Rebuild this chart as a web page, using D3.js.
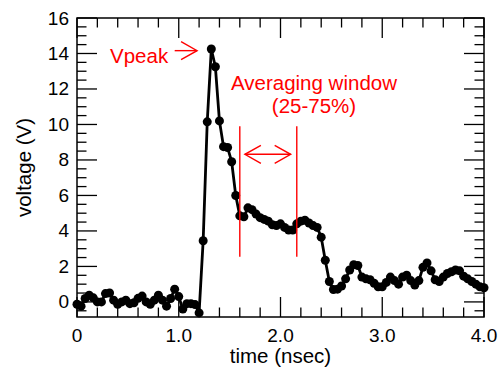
<!DOCTYPE html>
<html>
<head>
<meta charset="utf-8">
<script src="https://cdn.jsdelivr.net/npm/d3@7/dist/d3.min.js"></script>
<style>
  html, body { margin: 0; padding: 0; background: #fff; }
  svg { display: block; font-family: "Liberation Sans", Arial, Helvetica, sans-serif; }
</style>
</head>
<body>
<svg id="chart" width="502" height="371"></svg>
<script>
// ---- data ----
const times = [0.00,0.04,0.08,0.12,0.16,0.20,0.24,0.28,0.32,0.36,0.40,0.44,0.48,0.52,0.56,0.60,0.64,0.68,0.72,0.76,
  0.80,0.84,0.88,0.92,0.96,1.00,1.04,1.08,1.12,1.16,1.20,1.24,1.28,1.32,1.36,1.40,1.44,1.48,1.52,1.56,
  1.60,1.64,1.68,1.72,1.76,1.80,1.84,1.88,1.92,1.96,2.00,2.04,2.08,2.12,2.16,2.20,2.24,2.28,2.32,2.36,
  2.40,2.44,2.48,2.52,2.56,2.60,2.64,2.68,2.72,2.76,2.80,2.84,2.88,2.92,2.96,3.00,3.04,3.08,3.12,3.16,
  3.20,3.24,3.28,3.32,3.36,3.40,3.44,3.48,3.52,3.56,3.60,3.64,3.68,3.72,3.76,3.80,3.84,3.88,3.92,3.96,4.00];
const voltage = [-0.13,-0.24,0.19,0.38,0.23,0.00,0.00,0.47,0.50,0.10,-0.13,0.00,0.10,-0.10,-0.05,0.20,0.33,0.00,-0.13,0.10,
  0.38,0.10,-0.24,0.19,0.72,0.30,-0.40,-0.10,-0.10,-0.15,-0.62,3.45,10.15,14.25,13.25,10.20,8.75,8.70,7.90,6.00,
  4.85,4.80,5.30,5.20,4.95,4.75,4.65,4.55,4.35,4.30,4.40,4.20,4.05,4.05,4.40,4.55,4.60,4.45,4.30,4.20,
  3.65,2.35,1.15,0.70,0.72,0.90,1.30,1.80,2.10,2.05,1.40,1.30,1.25,1.05,0.85,0.85,1.10,1.40,1.20,1.00,
  1.40,1.50,1.20,0.95,1.20,1.95,2.20,1.75,1.25,1.15,1.40,1.60,1.70,1.80,1.75,1.45,1.30,1.15,1.00,0.85,0.80];

const xMajorTicks = [0, 1, 2, 3, 4];
const xTickLabels = ["0", "1.0", "2.0", "3.0", "4.0"];
const xMinorTicks = [0.2,0.4,0.6,0.8,1.2,1.4,1.6,1.8,2.2,2.4,2.6,2.8,3.2,3.4,3.6,3.8];
const yMajorTicks = [0, 2, 4, 6, 8, 10, 12, 14, 16];
const yTickLabels = ["0", "2", "4", "6", "8", "10", "12", "14", "16"];
const yMinorTicks = [-0.5,0.5,1,1.5,2.5,3,3.5,4.5,5,5.5,6.5,7,7.5,8.5,9,9.5,10.5,11,11.5,12.5,13,13.5,14.5,15,15.5];

// annotations (data units)
const windowBounds = [1.6, 2.16];
const windowLineRange = [2.55, 9.9];
const windowArrow = [1.65, 2.10, 8.32];   // t0, t1, v
const peakArrow = [0.96, 1.18, 14.16];    // t0, t1, v
const annotationTexts = ["Vpeak", "Averaging window", "(25-75%)"];

// ---- layout ----
const L = 77, R = 484, T = 18, B = 317;
const x = d3.scaleLinear().domain([0, 4]).range([L, R]);
const y = d3.scaleLinear().domain([-0.85, 16]).range([B, T]);

const svg = d3.select("#chart");
const red = "#ff0000";

// frame
svg.append("rect").attr("x", L).attr("y", T).attr("width", R - L).attr("height", B - T)
  .attr("fill", "none").attr("stroke", "#000").attr("stroke-width", 1.5);

const g = svg.append("g").attr("stroke", "#000").attr("stroke-width", 1.3);
const MAJ = 20, MIN = 9.5;
xMajorTicks.forEach(v => {
  g.append("line").attr("x1", x(v)).attr("x2", x(v)).attr("y1", B).attr("y2", B - MAJ);
  g.append("line").attr("x1", x(v)).attr("x2", x(v)).attr("y1", T).attr("y2", T + MAJ);
});
xMinorTicks.forEach(v => {
  g.append("line").attr("x1", x(v)).attr("x2", x(v)).attr("y1", B).attr("y2", B - MIN);
  g.append("line").attr("x1", x(v)).attr("x2", x(v)).attr("y1", T).attr("y2", T + MIN);
});
yMajorTicks.forEach(v => {
  g.append("line").attr("y1", y(v)).attr("y2", y(v)).attr("x1", L).attr("x2", L + MAJ);
  g.append("line").attr("y1", y(v)).attr("y2", y(v)).attr("x1", R).attr("x2", R - MAJ);
});
yMinorTicks.forEach(v => {
  g.append("line").attr("y1", y(v)).attr("y2", y(v)).attr("x1", L).attr("x2", L + MIN);
  g.append("line").attr("y1", y(v)).attr("y2", y(v)).attr("x1", R).attr("x2", R - MIN);
});

// tick labels
xMajorTicks.forEach((v, i) => {
  svg.append("text").attr("x", x(v)).attr("y", 342).attr("text-anchor", "middle")
    .attr("font-size", 19).attr("fill", "#000").text(xTickLabels[i]);
});
yMajorTicks.forEach((v, i) => {
  svg.append("text").attr("x", 69).attr("y", y(v) + 6.5).attr("text-anchor", "end")
    .attr("font-size", 19).attr("fill", "#000").text(yTickLabels[i]);
});

// axis titles
svg.append("text").attr("x", (L + R) / 2).attr("y", 363).attr("text-anchor", "middle")
  .attr("font-size", 20.5).attr("fill", "#000").text("time (nsec)");
svg.append("text").attr("transform", `translate(31,${(T + B) / 2}) rotate(-90)`)
  .attr("text-anchor", "middle").attr("font-size", 20.5).attr("fill", "#000").text("voltage (V)");

// data line & dots
const data = times.map((t, i) => ({ t, v: voltage[i] }));
svg.append("path").datum(data)
  .attr("d", d3.line().x(d => x(d.t)).y(d => y(d.v)))
  .attr("fill", "none").attr("stroke", "#000").attr("stroke-width", 2.8).attr("stroke-linejoin", "round");
svg.append("g").selectAll("circle").data(data).join("circle")
  .attr("cx", d => x(d.t)).attr("cy", d => y(d.v)).attr("r", 4.5).attr("fill", "#000");

// annotations
const ann = svg.append("g").attr("stroke", red).attr("stroke-width", 1.4).attr("fill", "none");
windowBounds.forEach(t => {
  ann.append("line").attr("x1", x(t)).attr("x2", x(t))
    .attr("y1", y(windowLineRange[0])).attr("y2", y(windowLineRange[1]));
});
function chevron(tipX, tipY, dir) {
  const hl = 16, hw = 9;
  ann.append("path").attr("d",
    `M${tipX - dir * hl},${tipY - hw} L${tipX},${tipY} L${tipX - dir * hl},${tipY + hw}`);
}
{
  const x0 = x(windowArrow[0]), x1 = x(windowArrow[1]), yy = y(windowArrow[2]);
  ann.append("line").attr("x1", x0).attr("x2", x1).attr("y1", yy).attr("y2", yy);
  chevron(x0, yy, -1);
  chevron(x1, yy, 1);
}
{
  const x0 = x(peakArrow[0]), x1 = x(peakArrow[1]), yy = y(peakArrow[2]);
  ann.append("line").attr("x1", x0).attr("x2", x1).attr("y1", yy).attr("y2", yy);
  chevron(x1, yy, 1);
}
svg.append("text").attr("x", 110).attr("y", 63).attr("font-size", 20.5).attr("fill", red).text(annotationTexts[0]);
svg.append("text").attr("x", 314).attr("y", 90).attr("text-anchor", "middle").attr("font-size", 20.5).attr("fill", red).text(annotationTexts[1]);
svg.append("text").attr("x", 314).attr("y", 113).attr("text-anchor", "middle").attr("font-size", 20.5).attr("fill", red).text(annotationTexts[2]);
</script>
</body>
</html>
